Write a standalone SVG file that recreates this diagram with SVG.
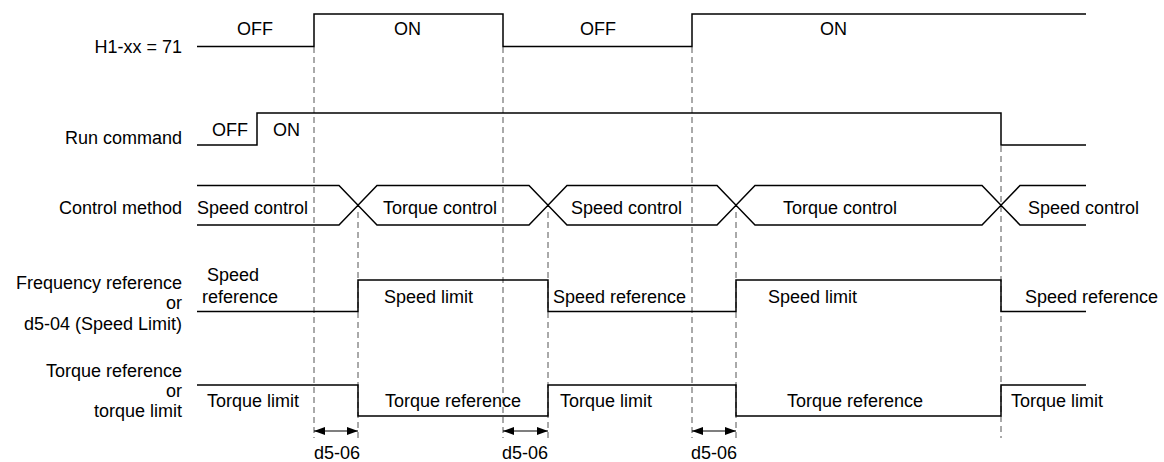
<svg xmlns="http://www.w3.org/2000/svg" width="1164" height="462" viewBox="0 0 1164 462">
<defs>
<marker id="ah" viewBox="0 0 11 8" refX="11" refY="4" markerWidth="11" markerHeight="8" orient="auto-start-reverse" markerUnits="userSpaceOnUse"><path d="M0,0 L11,4 L0,8 z" fill="#000"/></marker>
</defs>
<style>
text{font-family:"Liberation Sans",Arial,sans-serif;font-size:18px;fill:#000}
.lbl{text-anchor:end}
.mid{text-anchor:middle}
.sig{fill:none;stroke:#000;stroke-width:1.5}
.dash{stroke:#555;stroke-width:1;stroke-dasharray:6,4;fill:none}
.dim{stroke:#000;stroke-width:1.2;fill:none}
</style>
<rect width="1164" height="462" fill="#fff"/>

<g id="connectors">
<line class="dash" x1="314" y1="47" x2="314" y2="438"/>
<line class="dash" x1="358" y1="212" x2="358" y2="438"/>
<line class="dash" x1="503" y1="47" x2="503" y2="438"/>
<line class="dash" x1="548" y1="212" x2="548" y2="438"/>
<line class="dash" x1="692" y1="47" x2="692" y2="438"/>
<line class="dash" x1="736" y1="212" x2="736" y2="438"/>
<line class="dash" x1="1001" y1="146" x2="1001" y2="438"/>
<line class="dim" x1="314" y1="431" x2="358" y2="431" marker-start="url(#ah)" marker-end="url(#ah)"/>
<line class="dim" x1="503" y1="431" x2="548" y2="431" marker-start="url(#ah)" marker-end="url(#ah)"/>
<line class="dim" x1="692" y1="431" x2="736" y2="431" marker-start="url(#ah)" marker-end="url(#ah)"/>
<text class="mid" x="337" y="459">d5-06</text>
<text class="mid" x="525" y="459">d5-06</text>
<text class="mid" x="714" y="459">d5-06</text>
</g>

<g id="h1">
<text class="lbl" x="182" y="53">H1-xx = 71</text>
<polyline class="sig" points="197,46.5 314,46.5 314,14 503,14 503,46.5 692,46.5 692,14 1086,14"/>
<text x="237" y="35">OFF</text>
<text x="394" y="35">ON</text>
<text x="580" y="35">OFF</text>
<text x="820" y="35">ON</text>
</g>

<g id="run">
<text class="lbl" x="182" y="143.5">Run command</text>
<polyline class="sig" points="197,145 257,145 257,113 1001,113 1001,145 1086,145"/>
<text x="212" y="136">OFF</text>
<text x="273" y="136">ON</text>
</g>

<g id="control">
<text class="lbl" x="182" y="214">Control method</text>
<path class="sig" d="M197,185.5 H339 L358,205.25 L377,185.5 H529 L548,205.25 L567,185.5 H717 L736,205.25 L755,185.5 H982 L1001,205.25 L1020,185.5 H1086"/>
<path class="sig" d="M197,225 H339 L358,205.25 L377,225 H529 L548,205.25 L567,225 H717 L736,205.25 L755,225 H982 L1001,205.25 L1020,225 H1086"/>
<text x="197" y="214">Speed control</text>
<text x="383" y="214">Torque control</text>
<text x="571" y="214">Speed control</text>
<text x="783" y="214">Torque control</text>
<text x="1028" y="214">Speed control</text>
</g>

<g id="freq">
<text class="lbl" x="182" y="288.5">Frequency reference</text>
<text class="lbl" x="182" y="309">or</text>
<text class="lbl" x="182" y="329.5">d5-04 (Speed Limit)</text>
<polyline class="sig" points="197,311.5 358,311.5 358,280 548,280 548,311.5 736,311.5 736,280 1001,280 1001,311.5 1086,311.5"/>
<text x="207" y="280.5">Speed</text>
<text x="202" y="302.5">reference</text>
<text x="384" y="303">Speed limit</text>
<text x="553" y="303">Speed reference</text>
<text x="768" y="303">Speed limit</text>
<text x="1025" y="303">Speed reference</text>
</g>

<g id="torque">
<text class="lbl" x="182" y="377">Torque reference</text>
<text class="lbl" x="182" y="397">or</text>
<text class="lbl" x="182" y="417">torque limit</text>
<polyline class="sig" points="197,385 358,385 358,416 548,416 548,385 736,385 736,416 1001,416 1001,385 1086,385"/>
<text x="207" y="407">Torque limit</text>
<text x="385" y="407">Torque reference</text>
<text x="560" y="407">Torque limit</text>
<text x="787" y="407">Torque reference</text>
<text x="1011" y="407">Torque limit</text>
</g>
</svg>
